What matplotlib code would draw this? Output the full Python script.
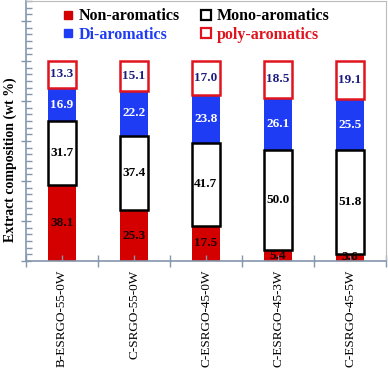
import numpy as np
import matplotlib.pyplot as plt
from matplotlib.lines import Line2D
from matplotlib.ticker import MultipleLocator, FixedLocator

# data (wt %)
samples = ["B-ESRGO-55-0W", "C-SRGO-55-0W", "C-ESRGO-45-0W", "C-ESRGO-45-3W", "C-ESRGO-45-5W"]
non_arom = [38.1, 25.3, 17.5, 5.4, 3.6]
mono_arom = [31.7, 37.4, 41.7, 50.0, 51.8]
di_arom = [16.9, 22.2, 23.8, 26.1, 25.5]
poly_arom = [13.3, 15.1, 17.0, 18.5, 19.1]

RED = "#d40000"
BLUE = "#1f3cf5"
EDGE_RED = "#e0141e"
AXIS = "#8496ab"

plt.rcParams["font.family"] = ["Liberation Serif", "DejaVu Serif"]

fig = plt.figure(figsize=(3.88, 3.72), dpi=100)
ax = fig.add_axes([26 / 388, 1 - 261 / 372, 360 / 388, 260 / 372])

x = np.arange(len(samples))
w = 0.4
b1 = np.array(non_arom)
b2 = b1 + np.array(mono_arom)
b3 = b2 + np.array(di_arom)

ax.bar(x, non_arom, w, color=RED, zorder=1)
ax.bar(x, di_arom, w, bottom=b2, color=BLUE, zorder=1)
ax.bar(x, mono_arom, w, bottom=b1, facecolor="white", edgecolor="black", linewidth=1.8, zorder=2)
ax.bar(x, poly_arom, w, bottom=b3, facecolor="white", edgecolor=EDGE_RED, linewidth=1.8, zorder=2)

# value labels
lab = dict(ha="center", va="center", fontsize=9.5, fontweight="bold", zorder=3)
for i in x:
    ax.text(i, non_arom[i] / 2, f"{non_arom[i]:.1f}", color="#1a0000", **lab)
    ax.text(i, b1[i] + mono_arom[i] / 2, f"{mono_arom[i]:.1f}", color="black", **lab)
    ax.text(i, b2[i] + di_arom[i] / 2, f"{di_arom[i]:.1f}", color="white", **lab)
    ax.text(i, b3[i] + poly_arom[i] / 2, f"{poly_arom[i]:.1f}", color="#1c1c80", **lab)

ax.set_xlim(-0.5, len(samples) - 0.5)
ax.set_ylim(0, 130)

# axes styling
for s in ["left", "bottom"]:
    ax.spines[s].set_color(AXIS)
    ax.spines[s].set_linewidth(1.2)
for s in ["top", "right"]:
    ax.spines[s].set_color("#bbbbbb")
    ax.spines[s].set_linewidth(0.8)

ax.xaxis.set_major_locator(FixedLocator(np.arange(-0.5, len(samples), 1)))
ax.set_xticklabels([])
ax.set_xticks(x, samples, minor=True)
ax.tick_params(axis="x", which="major", direction="inout", length=8, color=AXIS, width=1)
ax.tick_params(axis="x", which="minor", direction="in", length=4, color=AXIS, width=1,
               labelrotation=90, labelsize=9.5, pad=6)

ax.yaxis.set_major_locator(MultipleLocator(20))
ax.yaxis.set_minor_locator(MultipleLocator(20 / 6))
ax.set_yticklabels([])
ax.tick_params(axis="y", which="major", direction="inout", length=7, color=AXIS, width=1)
ax.tick_params(axis="y", which="minor", direction="in", length=4, color=AXIS, width=1)

ax.set_ylabel("Extract composition (wt %)", fontsize=10, fontweight="bold")
ax.yaxis.set_label_coords(-0.024, 0.39)

# legend
handles = [
    Line2D([], [], marker="s", ls="none", mfc=RED, mec=RED, ms=5.5),
    Line2D([], [], marker="s", ls="none", mfc=BLUE, mec=BLUE, ms=5.5),
    Line2D([], [], marker="s", ls="none", mfc="white", mec="black", ms=6.5, mew=1.6),
    Line2D([], [], marker="s", ls="none", mfc="white", mec=EDGE_RED, ms=6.5, mew=1.6),
]
names = ["Non-aromatics", "Di-aromatics", "Mono-aromatics", "poly-aromatics"]
leg = ax.legend(handles, names, ncol=2, loc="upper left", bbox_to_anchor=(0.09, 0.99),
                frameon=False, borderaxespad=0, borderpad=0.3, handlelength=0.6,
                handletextpad=0.4, columnspacing=1.3, labelspacing=0.15,
                prop={"size": 11.5, "weight": "bold"})
for t, c in zip(leg.get_texts(), ["black", BLUE, "black", EDGE_RED]):
    t.set_color(c)

fig.savefig("out.png", dpi=100)
